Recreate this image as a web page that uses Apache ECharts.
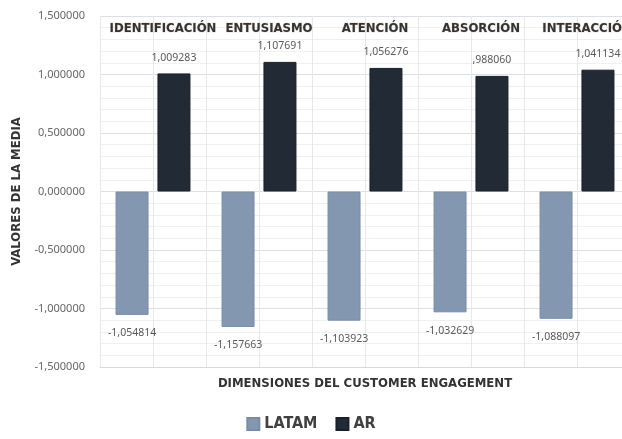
<!DOCTYPE html>
<html><head><meta charset="utf-8">
<script src="https://cdn.jsdelivr.net/npm/echarts@6/dist/echarts.min.js"></script>
<style>html,body{margin:0;padding:0;background:#fff;}#c{width:622px;height:439px;}</style>
</head><body><div id="c"></div>
<script>
const categories = ['IDENTIFICACIÓN', 'ENTUSIASMO', 'ATENCIÓN', 'ABSORCIÓN', 'INTERACCIÓN'];
const latam = [-1.054814, -1.157663, -1.103923, -1.032629, -1.088097];
const ar = [1.009283, 1.107691, 1.056276, 0.988060, 1.041134];
const seriesNames = ['LATAM', 'AR'];
const yMin = -1.5, yMax = 1.5, yStep = 0.5;

const condensed = '"Liberation Sans Narrow","DejaVu Sans Condensed",sans-serif';
function fmtAxis(v){ return v.toFixed(6).replace('.', ','); }
function fmtLabel(v){ let s = v.toFixed(6).replace('.', ','); return s.replace(/^0,/, ',').replace(/^-0,/, '-,'); }

const chart = echarts.init(document.getElementById('c'), null, {renderer:'canvas'});
chart.setOption({
  animation: false,
  backgroundColor: '#ffffff',
  grid: {left: 100, top: 16, width: 530, height: 351, containLabel: false, outerBoundsMode: 'none'},
  legend: {
    data: seriesNames, bottom: 2, left: 'center', itemWidth: 12, itemHeight: 12, itemGap: 18,
    icon: 'rect',
    textStyle: {fontFamily: condensed, fontWeight: 'bold', fontSize: 16, color: '#404040'}
  },
  xAxis: [{
    type: 'category', data: categories, position: 'top',
    axisLine: {show: false}, axisTick: {show: false}, splitLine: {show: false},
    axisLabel: {inside: true, margin: 6, interval: 0, padding: [0, 0, 0, 20],
      fontFamily: condensed, fontWeight: 'bold', fontSize: 13, color: '#333',
      textBorderColor: 'rgba(180,150,120,0.3)', textBorderWidth: 1}
  }, {
    type: 'value', min: 0, max: 10, interval: 1, position: 'bottom',
    axisLine: {show: true, lineStyle: {color: '#d9d9d9'}}, axisTick: {show: false}, axisLabel: {show: false},
    splitLine: {show: true, lineStyle: {color: '#e8e8e8', width: 1}},
    name: 'DIMENSIONES DEL CUSTOMER ENGAGEMENT', nameLocation: 'middle', nameGap: 10,
    nameTextStyle: {fontFamily: condensed, fontWeight: 'bold', fontSize: 13, color: '#333'}
  }],
  yAxis: {
    type: 'value', min: yMin, max: yMax, interval: yStep,
    axisLine: {show: false}, axisTick: {show: false},
    axisLabel: {formatter: fmtAxis, color: '#666', fontSize: 11, fontFamily: '"Noto Sans",sans-serif', margin: 15},
    splitLine: {show: true, lineStyle: {color: '#dcdfe3', width: 1}},
    minorTick: {show: false, splitNumber: 5},
    minorSplitLine: {show: true, lineStyle: {color: '#eef0f2', width: 1}},
    name: 'VALORES DE LA MEDIA', nameLocation: 'middle', nameGap: 77, nameRotate: 90,
    nameTextStyle: {fontFamily: condensed, fontWeight: 'bold', fontSize: 13, color: '#333'}
  },
  series: [{
    name: 'LATAM', type: 'bar', data: latam, xAxisIndex: 0, barWidth: 33, barGap: '27%',
    itemStyle: {color: '#8497b0', borderColor: '#7a8ca5', borderWidth: 1},
    label: {show: true, position: 'outside', distance: 13, formatter: p => fmtLabel(p.value), color: '#595959', fontSize: 10.5, fontFamily: '"Noto Sans",sans-serif'}
  }, {
    name: 'AR', type: 'bar', data: ar, xAxisIndex: 0, barWidth: 33, barGap: '27%',
    itemStyle: {color: '#222a35', borderColor: '#1a2029', borderWidth: 1},
    label: {show: true, position: 'outside', distance: 10, formatter: p => fmtLabel(p.value), color: '#595959', fontSize: 10.5, fontFamily: '"Noto Sans",sans-serif'}
  }]
});
</script></body></html>
